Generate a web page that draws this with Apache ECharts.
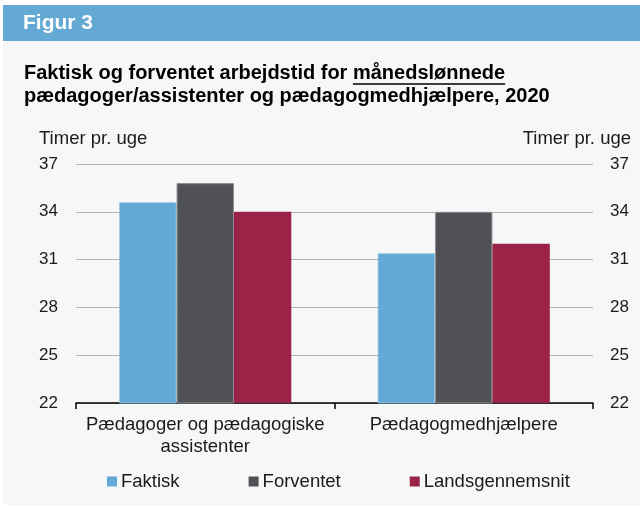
<!DOCTYPE html>
<html>
<head>
<meta charset="utf-8">
<script src="https://cdn.jsdelivr.net/npm/echarts@6/dist/echarts.min.js"></script>
<style>
  html, body { margin: 0; padding: 0; background: #ffffff; }
  #chart { width: 644px; height: 508px; }
</style>
</head>
<body>
<div id="chart"></div>
<script>
// Kategorier og værdier (timer pr. uge)
const categories = ['Pædagoger og pædagogiske\nassistenter', 'Pædagogmedhjælpere'];
const faktisk = [34.6, 31.4];
const forventet = [35.8, 34.0];
const landsgennemsnit = [34.0, 32.0];
const seriesNames = ['Faktisk', 'Forventet', 'Landsgennemsnit'];
const yMin = 22, yMax = 37, yStep = 3;

const FONT = '"Liberation Sans", Arial, sans-serif';
const colors = ['#63a9d5', '#505156', '#9b2347'];

function textWidth(str, font) {
  const c = document.createElement('canvas').getContext('2d');
  c.font = font;
  return c.measureText(str).width;
}

const titleFont = 'bold 20px ' + FONT;
const titleX = 24;
const line1a = 'Faktisk og forventet arbejdstid for ';
const line1b = 'månedslønnede';
const w1a = textWidth(line1a, titleFont);
const w1b = textWidth(line1b, titleFont);

const chart = echarts.init(document.getElementById('chart'), null, { renderer: 'canvas' });

const option = {
  animation: false,
  backgroundColor: '#ffffff',
  textStyle: { fontFamily: FONT },
  graphic: [
    { type: 'rect', z: -10, shape: { x: 3, y: 40, width: 637, height: 465 }, style: { fill: '#f6f8f8' } },
    { type: 'rect', z: -10, shape: { x: 3, y: 5, width: 637, height: 36 }, style: { fill: '#64a9d4' } },
    { type: 'text', x: 23, y: 23.5, style: { text: 'Figur 3', font: 'bold 21px ' + FONT, fill: '#ffffff', textVerticalAlign: 'middle' } },
    { type: 'text', x: titleX, y: 73.5, style: { text: line1a + line1b, font: titleFont, fill: '#000000', textVerticalAlign: 'middle' } },
    { type: 'line', shape: { x1: titleX + w1a, y1: 84, x2: titleX + w1a + w1b, y2: 84 }, style: { stroke: '#000000', lineWidth: 1.6 } },
    { type: 'text', x: titleX, y: 96.5, style: { text: 'pædagoger/assistenter og pædagogmedhjælpere, 2020', font: titleFont, fill: '#000000', textVerticalAlign: 'middle' } },
    { type: 'text', x: 39, y: 139, style: { text: 'Timer pr. uge', font: '18.5px ' + FONT, fill: '#1a1a1a', textVerticalAlign: 'middle' } },
    { type: 'text', x: 631, y: 139, style: { text: 'Timer pr. uge', font: '18.5px ' + FONT, fill: '#1a1a1a', textAlign: 'right', textVerticalAlign: 'middle' } }
  ],
  grid: { left: 76, right: 51, top: 164, bottom: 105, containLabel: false },
  legend: {
    data: seriesNames,
    left: 107,
    top: 472,
    padding: 0,
    itemWidth: 10,
    itemHeight: 10,
    itemGap: 69,
    icon: 'rect',
    itemStyle: { borderWidth: 0 },
    textStyle: { fontSize: 18.5, color: '#1a1a1a', fontFamily: FONT, padding: [0, 0, 0, -1] }
  },
  xAxis: {
    type: 'category',
    data: categories,
    axisLine: { lineStyle: { color: '#000000', width: 1.5 } },
    axisTick: { show: true, length: 6, lineStyle: { color: '#000000', width: 1.5 } },
    axisLabel: { interval: 0, fontSize: 18.5, color: '#1a1a1a', lineHeight: 22, margin: 11, fontFamily: FONT }
  },
  yAxis: [
    {
      type: 'value', min: yMin, max: yMax, interval: yStep, position: 'left',
      axisLine: { show: false }, axisTick: { show: false },
      axisLabel: { fontSize: 17, color: '#1a1a1a', margin: 18, fontFamily: FONT },
      splitLine: { lineStyle: { color: '#b3b3b3', width: 1 } }
    },
    {
      type: 'value', min: yMin, max: yMax, interval: yStep, position: 'right',
      axisLine: { show: false }, axisTick: { show: false },
      axisLabel: { fontSize: 17, color: '#1a1a1a', margin: 17, fontFamily: FONT },
      splitLine: { show: false }
    }
  ],
  series: [
    { name: seriesNames[0], type: 'bar', data: faktisk, barWidth: '22.2%', barGap: '0%',
      itemStyle: { color: colors[0], borderColor: '#9cc8e6', borderWidth: 0.8 } },
    { name: seriesNames[1], type: 'bar', data: forventet, barWidth: '22.2%', barGap: '0%',
      itemStyle: { color: colors[1], borderColor: '#8d8e93', borderWidth: 1 } },
    { name: seriesNames[2], type: 'bar', data: landsgennemsnit, barWidth: '22.2%', barGap: '0%',
      itemStyle: { color: colors[2] } }
  ]
};

chart.setOption(option);
</script>
</body>
</html>
